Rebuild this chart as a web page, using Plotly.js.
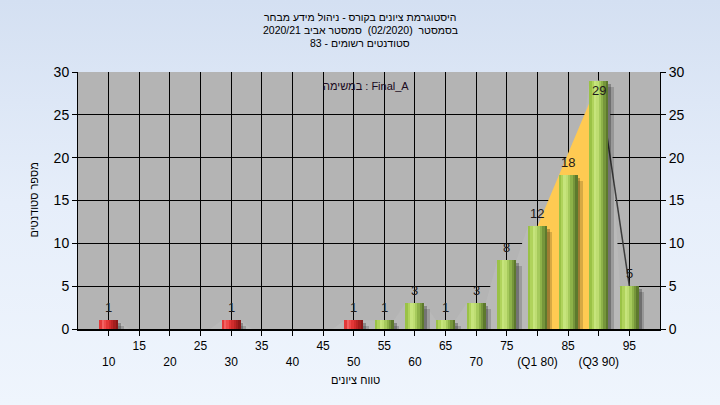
<!DOCTYPE html>
<html>
<head>
<meta charset="utf-8">
<script src="https://cdn.plot.ly/plotly-3.0.1.min.js"></script>
<style>
html,body{margin:0;padding:0;width:720px;height:405px;overflow:hidden;background:linear-gradient(180deg,#d4e0f2 0%,#e6eefa 50%,#eff5fd 100%);}
#chart{width:720px;height:405px;}
</style>
</head>
<body>
<div id="chart"></div>
<script>
// ---- data ----
const grades = [10,15,20,25,30,35,40,45,50,55,60,65,70,75,80,85,90,95];
const counts = [1,0,0,0,1,0,0,0,1,1,3,1,3,8,12,18,29,5];
const tickLabels = ['10','15','20','25','30','35','40','45','50','55','60','65','70','75','(Q1 80)','85','(Q3 90)','95'];
const q1Grade = 80;
const q3Grade = 90;
const passGrade = 55;
const titleLines = [
  'היסטוגרמת ציונים בקורס - ניהול מידע מבחר',
  'בסמסטר  (02/2020)  סמסטר אביב 2020/21',
  'סטודנטים רשומים - 83'
];
const taskLabel = 'במשימה : Final_A';
const xTitle = 'טווח ציונים';
const yTitle = 'מספר סטודנטים';

// ---- styling ----
const FONT = 'Liberation Sans, Arial, DejaVu Sans, sans-serif';
const W = 3.1;               // bar width in axis units
const NS = 8;                // gradient stripes
const greenStripes = ['#9ac246','#b0d35c','#c6e47c','#bedd72','#a6ca5c','#8eb249','#76963b','#5d792d'];
const redStripes   = ['#e23838','#f26262','#ee4a4a','#e23636','#d02c2c','#bc2424','#a41e1e','#8a1818'];

const traces = [];
// background area behind bars (covers grid), joined at bar edges
const areaX = [], areaY = [];
grades.forEach((g,i)=>{ areaX.push(g-W/2, g+W/2); areaY.push(counts[i], counts[i]); });
traces.push({type:'scatter', x:areaX, y:areaY, xaxis:'x', yaxis:'y', mode:'lines',
  line:{width:0, color:'rgba(0,0,0,0)'}, fill:'tozeroy', fillcolor:'#b9b9b9', hoverinfo:'skip', showlegend:false});
// interquartile yellow area
const iq = grades.indexOf(q1Grade), i3 = grades.indexOf(q3Grade);
traces.push({type:'scatter', x:[q1Grade,q3Grade], y:[counts[iq],counts[i3]], xaxis:'x', yaxis:'y', mode:'lines',
  line:{width:0, color:'rgba(0,0,0,0)'}, fill:'tozeroy', fillcolor:'#ffca52', hoverinfo:'skip', showlegend:false});
// tail line after Q3
traces.push({type:'scatter', x:grades.slice(i3), y:counts.slice(i3), xaxis:'x', yaxis:'y', mode:'lines',
  line:{width:1.5, color:'#3c3c3c'}, hoverinfo:'skip', showlegend:false});

// shadows
[[0.45,0.26,0.35],[0.9,0.16,0.7]].forEach(([dx,a,dy])=>{
  traces.push({type:'bar', x:grades, y:counts.map(c=>c>0?c-dy+0.3:null), base:-0.3, xaxis:'x2', yaxis:'y2',
    width:W, offset:-W/2+dx, marker:{color:'rgba(0,0,0,'+a+')', line:{width:0}}, hoverinfo:'skip', showlegend:false});
});
// gradient stripes
for (let i=0;i<NS;i++){
  traces.push({type:'bar', x:grades, y:counts, xaxis:'x2', yaxis:'y2',
    width:(i<NS-1? W/NS*1.25 : W/NS), offset:-W/2+i*W/NS,
    marker:{color:grades.map(g=>g<passGrade?redStripes[i]:greenStripes[i]), line:{width:0}},
    hoverinfo:'skip', showlegend:false});
}

const px = v => (v-78)/582;           // pixel x -> paper
const py = v => 1-(v-72)/257;         // pixel y -> paper

const annotations = [];
// value labels
grades.forEach((g,i)=>{
  const c = counts[i];
  if (c<=0) return;
  const inside = c > 27;
  annotations.push({x:g, y:c, xref:'x2', yref:'y2', text:String(c), showarrow:false,
    yanchor: inside?'top':'bottom', yshift: inside?0:3,
    font:{family:FONT, size:13, color:'#1e1a1a'}});
});
// title lines
const titleY = [17,30,43];
titleLines.forEach((t,k)=>{
  annotations.push({x:px(360), y:py(titleY[k]), xref:'paper', yref:'paper', xanchor:'center', yanchor:'middle',
    text:t, showarrow:false, font:{family:FONT, size:10.5, color:'#000'}});
});
annotations.push({x:px(366), y:py(86), xref:'paper', yref:'paper', xanchor:'center', yanchor:'middle',
  text:taskLabel, showarrow:false, font:{family:FONT, size:11, color:'#1a0a20'}});
annotations.push({x:px(355), y:py(380), xref:'paper', yref:'paper', xanchor:'center', yanchor:'middle',
  text:xTitle, showarrow:false, font:{family:FONT, size:11, color:'#000'}});
annotations.push({x:px(33), y:0.5, xref:'paper', yref:'paper', xanchor:'center', yanchor:'middle',
  text:yTitle, textangle:-90, showarrow:false, font:{family:FONT, size:11, color:'#000'}});

const tickText = tickLabels.map((t,i)=> i%2===0 ? '\u00a0<br>'+t : t);

const layout = {
  width:720, height:405,
  margin:{l:78, r:60, t:72, b:76, pad:0},
  paper_bgcolor:'rgba(0,0,0,0)', plot_bgcolor:'#b4b4b4',
  barmode:'overlay', bargap:0,
  showlegend:false,
  font:{family:FONT, color:'#000'},
  xaxis:{range:[5,100], tickmode:'array', tickvals:grades, ticktext:tickText, tickangle:0,
    ticks:'outside', ticklen:5, tickcolor:'#000', tickwidth:1,
    showgrid:true, gridcolor:'#000', gridwidth:1, zeroline:false,
    showline:true, linecolor:'#000', linewidth:1.5,
    tickfont:{family:FONT, size:12, color:'#000'}, automargin:false, fixedrange:true},
  yaxis:{range:[0,30], tickmode:'linear', tick0:0, dtick:5,
    ticks:'outside', ticklen:5, tickcolor:'#000',
    showgrid:true, gridcolor:'#000', gridwidth:1, zeroline:false,
    showline:true, linecolor:'#000', linewidth:1,
    tickfont:{family:FONT, size:14, color:'#000'}, automargin:false, fixedrange:true},
  xaxis2:{overlaying:'x', range:[5,100], visible:false, fixedrange:true},
  yaxis2:{overlaying:'y', side:'right', anchor:'x2', range:[0,30], tickmode:'linear', tick0:0, dtick:5,
    ticks:'outside', ticklen:5, tickcolor:'#000',
    showgrid:false, zeroline:false, showline:true, linecolor:'#000', linewidth:1,
    tickfont:{family:FONT, size:14, color:'#000'}, automargin:false, fixedrange:true},
  annotations:annotations
};

Plotly.newPlot('chart', traces, layout, {staticPlot:true, displayModeBar:false});
</script>
</body>
</html>
